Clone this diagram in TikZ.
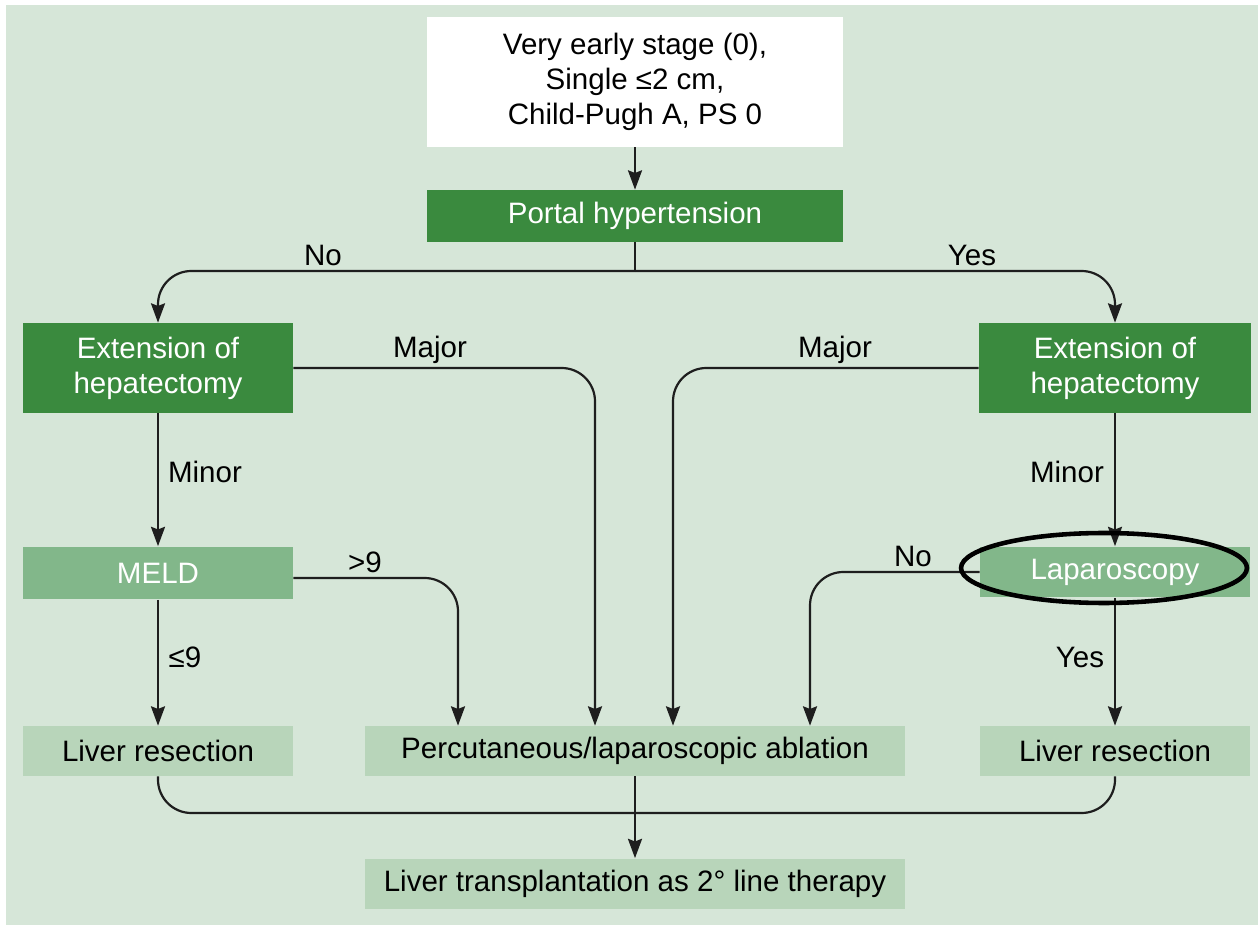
\documentclass[tikz,border=0pt]{standalone}
\usepackage{fontspec}
\setmainfont{Liberation Sans}
\usetikzlibrary{arrows.meta,calc}
\definecolor{bg}{RGB}{214,230,216}
\definecolor{dark}{RGB}{58,138,62}
\definecolor{mid}{RGB}{130,183,138}
\definecolor{light}{RGB}{184,213,186}
\definecolor{ln}{RGB}{30,30,30}
\tikzset{
  every node/.style={font=\fontsize{16.8}{19.8}\selectfont},
  box/.style={inner sep=0pt, align=center},
  topbox/.style={box, fill=white, text=black, minimum width=8.32cm, minimum height=2.6cm},
  darkbox/.style={box, fill=dark, text=white},
  midbox/.style={box, fill=mid, text=white},
  lightbox/.style={box, fill=light, text=black},
  conn/.style={draw=ln, line width=1.25pt},
  arr/.style={conn, -{Stealth[length=11pt,width=8pt,inset=1.5pt]}},
  rc/.style={rounded corners=19pt},
  lbl/.style={text=black, inner sep=0pt}
}
\begin{document}
\begin{tikzpicture}[x=0.02cm,y=-0.02cm]
\useasboundingbox (0,0) rectangle (1258,925);
\fill[white] (0,0) rectangle (1258,925);
\fill[bg] (6,5) rectangle (1258,925);

\node[topbox] (top) at (635,82) {Very early stage (0),\\Single ≤2 cm,\\Child-Pugh A, PS 0};
\node[darkbox, minimum width=8.32cm, minimum height=1.04cm] (ph) at (635,216) {Portal hypertension};
\node[darkbox, minimum width=5.4cm, minimum height=1.8cm] (extL) at (158,368) {Extension of\\hepatectomy};
\node[darkbox, minimum width=5.44cm, minimum height=1.8cm] (extR) at (1115,368) {Extension of\\hepatectomy};
\node[midbox, minimum width=5.4cm, minimum height=1.06cm] (meld) at (158,573) {MELD};
\node[midbox, minimum width=5.4cm, minimum height=1.02cm] (lap) at (1115,572) {Laparoscopy};
\node[lightbox, minimum width=5.4cm, minimum height=1.0cm] (lrL) at (158,751) {Liver resection};
\node[lightbox, minimum width=10.8cm, minimum height=1.0cm] (abl) at (635,751) {Percutaneous/laparoscopic ablation};
\node[lightbox, minimum width=5.4cm, minimum height=1.0cm] (lrR) at (1115,751) {Liver resection};
\node[lightbox, minimum width=10.8cm, minimum height=1.02cm] (lt) at (635,884) {Liver transplantation as 2° line therapy};

% connectors
\draw[arr] (top) -- (ph);
\coordinate (j) at (635,271);
\draw[conn] (ph) -- (j);
\draw[arr, rc] (j) -| (extL);
\draw[arr, rc] (j) -| (extR);
\node[lbl] (lNo1) at (323,255) {No};
\node[lbl] (lYes1) at (972,255) {Yes};

\draw[arr, rc] (extL.east) -| ($(abl.north)+(-40,0)$);
\draw[arr, rc] (extR.west) -| ($(abl.north)+(38,0)$);
\node[lbl] (lMaj1) at (430,350) {Major};
\node[lbl] (lMaj2) at (835,350) {Major};

\draw[arr] (extL) -- (meld);
\draw[arr] (extR) -- (lap);
\node[lbl] (lMin1) at (205,472) {Minor};
\node[lbl] (lMin2) at (1067,472) {Minor};

\draw[arr, rc] ([yshift=-0.1cm]meld.east) -| ($(abl.north)+(-177,0)$);
\node[lbl] (lgt) at (365,562) {>9};
\draw[arr] (meld) -- (lrL);
\node[lbl] (lle) at (185,657) {≤9};

\draw[arr, rc] (lap.west) -| ($(abl.north)+(175,0)$);
\node[lbl] (lNo2) at (913,556) {No};
\draw[arr] (lap) -- (lrR);
\node[lbl] (lYes2) at (1080,657) {Yes};

\coordinate (bb) at (635,813);
\draw[conn, rc] (lrL.south) |- (bb) -| (lrR.south);
\draw[arr] (abl) -- (lt);

% highlight ellipse
\draw[black, line width=2.6pt] (1104,568) ellipse [x radius=2.86cm, y radius=0.7cm];
\end{tikzpicture}
\end{document}
